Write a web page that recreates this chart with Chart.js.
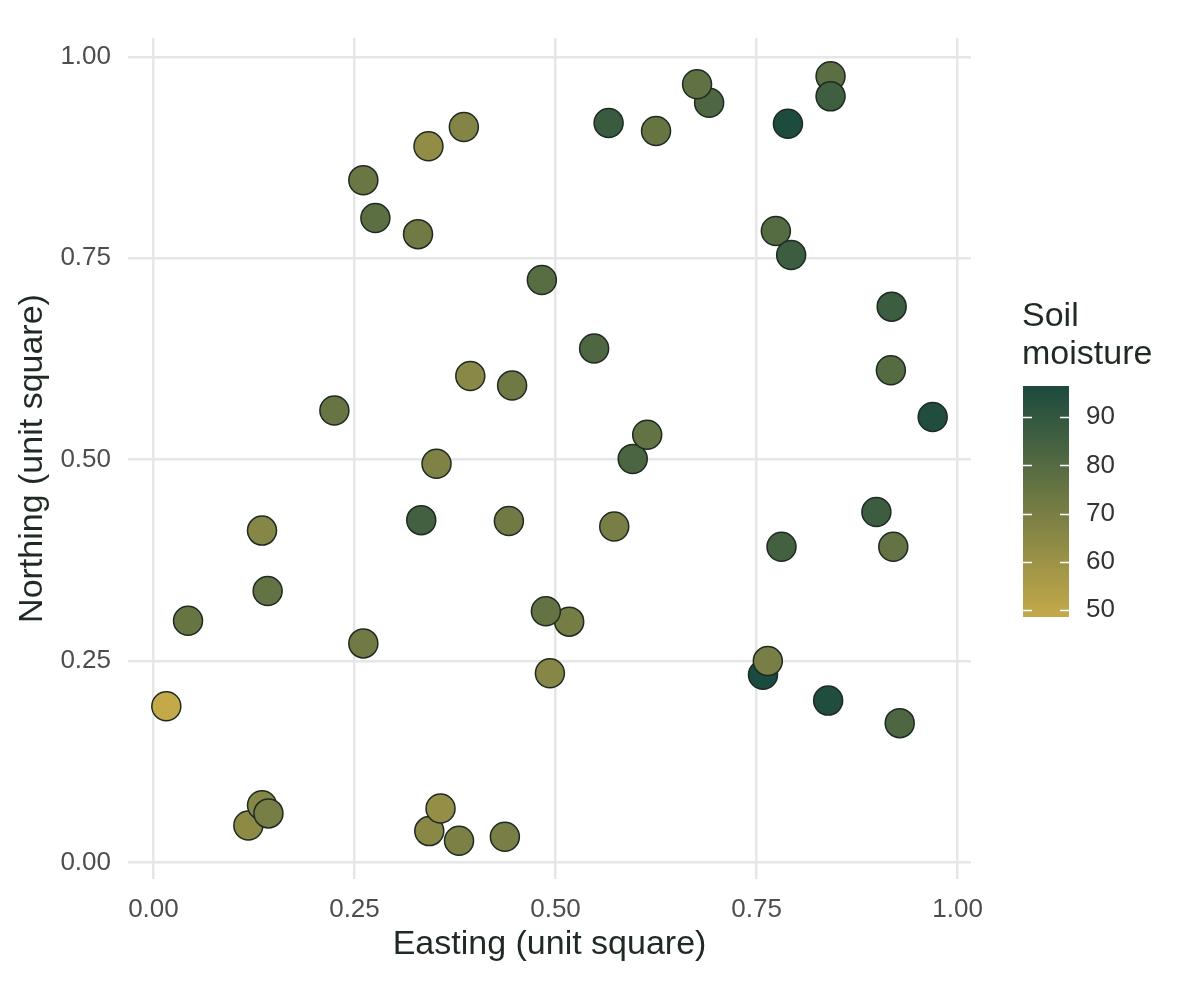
<!DOCTYPE html>
<html>
<head>
<meta charset="utf-8">
<script src="https://cdn.jsdelivr.net/npm/chart.js@4.4.1/dist/chart.umd.min.js"></script>
<style>
    body { margin: 0; background: #ffffff; }
    canvas { display: block; }
</style>
</head>
<body>
<canvas id="soilChart" width="1190" height="998"></canvas>
<script>
const easting = [0.016, 0.043, 0.135, 0.142, 0.118, 0.135, 0.143, 0.225, 0.261, 0.276,
    0.261, 0.329, 0.342, 0.386, 0.333, 0.352, 0.343, 0.357, 0.380, 0.394,
    0.446, 0.442, 0.437, 0.483, 0.517, 0.488, 0.493, 0.548, 0.566, 0.625,
    0.596, 0.614, 0.573, 0.691, 0.676, 0.789, 0.774, 0.793, 0.842, 0.842,
    0.918, 0.917, 0.969, 0.899, 0.920, 0.781, 0.758, 0.764, 0.839, 0.928];
const northing = [0.194, 0.300, 0.412, 0.337, 0.046, 0.071, 0.061, 0.561, 0.847, 0.800,
    0.272, 0.780, 0.889, 0.913, 0.425, 0.495, 0.039, 0.067, 0.027, 0.604,
    0.592, 0.424, 0.032, 0.723, 0.299, 0.312, 0.235, 0.638, 0.918, 0.908,
    0.501, 0.531, 0.417, 0.943, 0.966, 0.917, 0.784, 0.754, 0.976, 0.951,
    0.690, 0.611, 0.553, 0.435, 0.392, 0.392, 0.233, 0.250, 0.201, 0.173];
const moisture = [48.5, 75, 66, 76, 64, 66, 70, 75, 74, 78,
    72, 72, 63, 67, 85, 68, 65, 62, 69, 65,
    73, 72, 70, 79, 71, 76, 66, 82, 88, 75,
    83, 76, 70, 82, 77, 96, 80, 87, 78, 86,
    87, 80, 95, 87, 76, 85, 96.5, 70, 95, 82];
const axisTicks = [0, 0.25, 0.5, 0.75, 1];
const legendTicks = [50, 60, 70, 80, 90];

const lowColor = [196, 169, 74];
const highColor = [27, 74, 62];
const moistureMin = Math.min(...moisture);
const moistureMax = Math.max(...moisture);

function moistureColor(value) {
    const t = Math.max(0, Math.min(1, (value - moistureMin) / (moistureMax - moistureMin)));
    const rgb = lowColor.map((c, i) => Math.round(c + (highColor[i] - c) * t));
    return `rgb(${rgb[0]}, ${rgb[1]}, ${rgb[2]})`;
}

// ggplot-like 5% expansion around the data range
function expandedRange(values) {
    const lo = Math.min(...values);
    const hi = Math.max(...values);
    const pad = (hi - lo) * 0.05;
    return [lo - pad, hi + pad];
}

const [xMin, xMax] = expandedRange(easting);
const [yMin, yMax] = expandedRange(northing);

const points = easting.map((x, i) => ({ x: x, y: northing[i] }));
const pointColors = moisture.map(moistureColor);

const fontFamily = "'Liberation Sans', Arial, Helvetica, sans-serif";
const gridColor = "#e6e6e6";
const tickColor = "#4d4d4d";
const titleColor = "#1f2a23";

const colorBarPlugin = {
    id: "colorBar",
    afterDraw(chart) {
        const ctx = chart.ctx;
        const left = 1023;
        const top = 386;
        const width = 46;
        const height = 231;
        const valueToY = (v) => top + height - (v - moistureMin) / (moistureMax - moistureMin) * height;

        ctx.save();
        for (let i = 0; i < height; i++) {
            const v = moistureMax - (i + 0.5) / height * (moistureMax - moistureMin);
            ctx.fillStyle = moistureColor(v);
            ctx.fillRect(left, top + i, width, 1);
        }

        ctx.strokeStyle = "#ffffff";
        ctx.lineWidth = 1.5;
        legendTicks.forEach((v) => {
            const y = Math.round(valueToY(v)) + 0.5;
            ctx.beginPath();
            ctx.moveTo(left, y);
            ctx.lineTo(left + 9, y);
            ctx.moveTo(left + width - 9, y);
            ctx.lineTo(left + width, y);
            ctx.stroke();
        });

        ctx.fillStyle = "#333333";
        ctx.font = `26px ${fontFamily}`;
        ctx.textAlign = "left";
        ctx.textBaseline = "middle";
        legendTicks.forEach((v) => {
            ctx.fillText(String(v), 1086, valueToY(v));
        });

        ctx.fillStyle = titleColor;
        ctx.font = `34px ${fontFamily}`;
        ctx.fillText("Soil", 1022, 317);
        ctx.fillText("moisture", 1022, 355);
        ctx.restore();
    }
};

new Chart(document.getElementById("soilChart"), {
    type: "scatter",
    data: {
        datasets: [{
            label: "Soil moisture",
            data: points,
            backgroundColor: pointColors,
            borderColor: "#1e2b22",
            borderWidth: 1.5,
            pointRadius: 14.5,
            pointHoverRadius: 14.5
        }]
    },
    options: {
        responsive: false,
        animation: false,
        devicePixelRatio: 1,
        layout: {
            padding: { left: 0, right: 219, top: 38, bottom: 0 }
        },
        plugins: {
            legend: { display: false },
            tooltip: { enabled: false }
        },
        scales: {
            x: {
                type: "linear",
                min: xMin,
                max: xMax,
                afterBuildTicks: (scale) => {
                    scale.ticks = axisTicks.map((v) => ({ value: v }));
                },
                afterFit: (scale) => {
                    scale.height = 119;
                },
                border: { display: false },
                grid: { color: gridColor, lineWidth: 2.5, drawTicks: false },
                ticks: {
                    color: tickColor,
                    font: { family: fontFamily, size: 26 },
                    padding: 15,
                    maxRotation: 0,
                    autoSkip: false,
                    callback: (v) => Number(v).toFixed(2)
                },
                title: {
                    display: true,
                    text: "Easting (unit square)",
                    color: titleColor,
                    font: { family: fontFamily, size: 34 },
                    padding: { top: 0, bottom: 33 }
                }
            },
            y: {
                type: "linear",
                min: yMin,
                max: yMax,
                afterBuildTicks: (scale) => {
                    scale.ticks = axisTicks.map((v) => ({ value: v }));
                },
                afterFit: (scale) => {
                    scale.width = 128;
                },
                border: { display: false },
                grid: { color: gridColor, lineWidth: 2.5, drawTicks: false },
                ticks: {
                    color: tickColor,
                    font: { family: fontFamily, size: 26 },
                    padding: 17,
                    autoSkip: false,
                    callback: (v) => Number(v).toFixed(2)
                },
                title: {
                    display: true,
                    text: "Northing (unit square)",
                    color: titleColor,
                    font: { family: fontFamily, size: 34 },
                    padding: { top: 12, bottom: 0 }
                }
            }
        }
    },
    plugins: [colorBarPlugin]
});
</script>
</body>
</html>
